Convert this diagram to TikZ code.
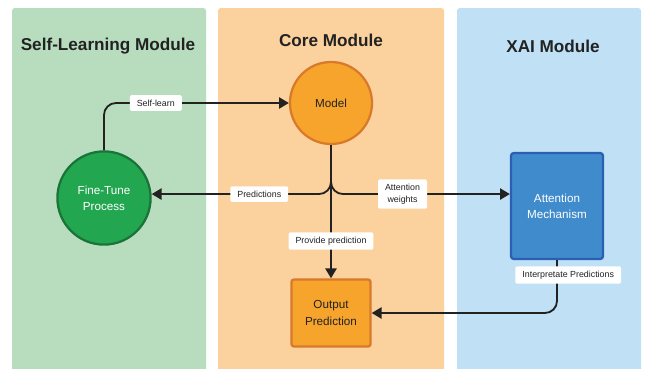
\documentclass[tikz,border=0pt]{standalone}
\usepackage{fontspec}
\setmainfont{Liberation Sans}
\usetikzlibrary{arrows.meta,shapes.geometric}

\definecolor{greenbg}{HTML}{B8DDBE}
\definecolor{orangebg}{HTML}{FBD19D}
\definecolor{bluebg}{HTML}{BFE0F5}
\definecolor{tunefill}{HTML}{22A650}
\definecolor{tuneline}{HTML}{1A7438}
\definecolor{corefill}{HTML}{F7A42C}
\definecolor{coreline}{HTML}{D9792A}
\definecolor{xaifill}{HTML}{3F8BCB}
\definecolor{xailine}{HTML}{2A5FB3}
\definecolor{inkgray}{HTML}{222222}

\tikzset{
  panel/.style={rounded corners=2pt},
  title/.style={font=\bfseries\fontsize{12.2}{14}\selectfont, text=inkgray},
  circnode/.style={circle, line width=1.6pt, align=center, font=\fontsize{8.3}{10.5}\selectfont},
  boxnode/.style={rectangle, rounded corners=2pt, line width=1.6pt, align=center, font=\fontsize{8.3}{10.5}\selectfont},
  tag/.style={fill=white, rounded corners=1pt, inner xsep=5pt, inner ysep=3.2pt, align=center, text=inkgray, font=\fontsize{6.3}{8.5}\selectfont},
  link/.style={line width=1.3pt, inkgray, rounded corners=0.3cm},
  arr/.style={link, -{Triangle[length=7pt,width=8pt]}}
}

\begin{document}
\begin{tikzpicture}[x=0.025cm,y=-0.025cm]
\useasboundingbox (0,0) rectangle (649,368);
\fill[white] (0,0) rectangle (649,368);
% columns
\fill[panel,greenbg] (12,8) rectangle (206,372);
\fill[panel,orangebg] (218,8) rectangle (444,372);
\fill[panel,bluebg] (457,8) rectangle (641,372);
\node[title] (selftitle) at (108,46) {Self-Learning Module};
\node[title] (coretitle) at (331,40) {Core Module};
\node[title] (xaititle) at (553,46) {XAI Module};
% nodes
\node[circnode, draw=coreline, fill=corefill, text=inkgray, minimum size=2.05cm] (model) at (331,103) {Model};
\node[circnode, draw=tuneline, fill=tunefill, text=white, minimum size=2.33cm] (tune) at (104,198) {Fine-Tune\\[1pt]Process};
\node[boxnode, draw=xailine, fill=xaifill, text=white, minimum width=2.3cm, minimum height=2.65cm] (attn) at (557,206) {Attention\\[1pt]Mechanism};
\node[boxnode, draw=coreline, fill=corefill, text=inkgray, minimum width=1.98cm, minimum height=1.68cm] (output) at (331,313) {Output\\[1pt]Prediction};
% connectors
\draw[arr] (tune.north) |- (model.west) node[pos=0.64, tag] {Self-learn};
\draw[arr] (model.south) |- ([yshift=2.8pt]tune.east) node[pos=0.7, tag] {Predictions};
\draw[arr] (model.south) |- ([yshift=8.5pt]attn.west) node[pos=0.7, tag] {Attention\\weights};
\draw[arr] (model.south) -- (output.north) node[pos=0.72, tag] {Provide prediction};
\draw[arr] (attn.south) |- (output.east) node[pos=0.14, xshift=0.28cm, tag] {Interpretate Predictions};
\end{tikzpicture}
\end{document}
